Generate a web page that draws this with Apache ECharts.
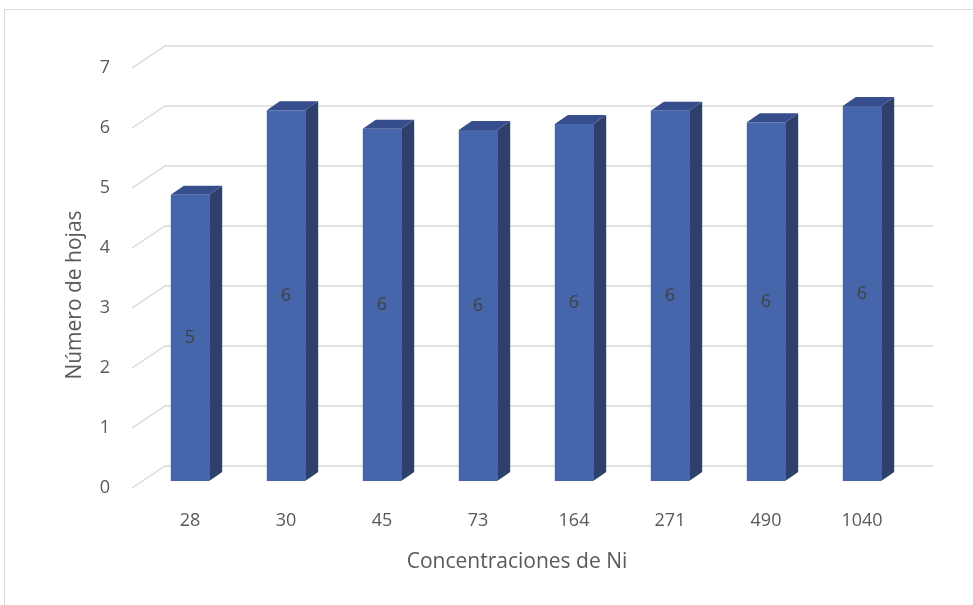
<!DOCTYPE html>
<html>
<head>
    <meta charset="utf-8">
    <title>Número de hojas</title>
    <script src="https://cdn.jsdelivr.net/npm/echarts@6.0.0/dist/echarts.min.js"></script>
    <style>
        html, body { margin: 0; padding: 0; background: #fff; }
        #chart { width: 973px; height: 605px; }
    </style>
</head>
<body>
<div id="chart"></div>
<script>
    // datos
    const categories = ['28', '30', '45', '73', '164', '271', '490', '1040'];
    const hojas = [4.77, 6.18, 5.87, 5.85, 5.95, 6.17, 5.98, 6.25];
    const yTicks = [0, 1, 2, 3, 4, 5, 6, 7];

    const textColor = '#595959';
    const font = 'Open Sans';
    // desplazamientos de la perspectiva (px)
    const depth = { dx: 13, dy: 9 };        // fondo de la barra
    const wallBack = { dx: 23, dy: -15 };   // pared del fondo
    const wallFront = { dx: -10, dy: 7 };   // plano frontal

    function renderWall(params, api) {
        const cs = params.coordSys;
        const y = api.coord([0, api.value(1)])[1];
        const line = { stroke: '#D9D9D9', lineWidth: 1.5 };
        return {
            type: 'group',
            children: [{
                type: 'line',
                shape: { x1: cs.x + wallBack.dx, y1: y + wallBack.dy, x2: cs.x + cs.width + wallBack.dx, y2: y + wallBack.dy },
                style: line
            }, {
                type: 'line',
                shape: { x1: cs.x + wallFront.dx, y1: y + wallFront.dy, x2: cs.x + wallBack.dx, y2: y + wallBack.dy },
                style: line
            }]
        };
    }

    function renderBar(params, api) {
        const top = api.coord([api.value(0), api.value(1)]);
        const base = api.coord([api.value(0), 0]);
        const w = api.size([1, 0])[0] * 0.4;
        const x0 = top[0] - w / 2, x1 = top[0] + w / 2;
        return {
            type: 'group',
            children: [{
                type: 'polygon',
                shape: { points: [[x1, top[1]], [x1 + depth.dx, top[1] - depth.dy], [x1 + depth.dx, base[1] - depth.dy], [x1, base[1]]] },
                style: { fill: '#2E3F6C' }
            }, {
                type: 'polygon',
                shape: { points: [[x0, top[1]], [x0 + depth.dx, top[1] - depth.dy], [x1 + depth.dx, top[1] - depth.dy], [x1, top[1]]] },
                style: { fill: '#364E8C' }
            }, {
                type: 'rect',
                shape: { x: x0, y: top[1], width: w, height: base[1] - top[1] },
                style: { fill: '#4666AC' }
            }, {
                type: 'text',
                style: {
                    text: String(Math.round(api.value(1))),
                    x: top[0], y: (top[1] + base[1]) / 2,
                    align: 'center', verticalAlign: 'middle',
                    fill: '#404040', fontSize: 18, fontFamily: font
                }
            }]
        };
    }

    const chart = echarts.init(document.getElementById('chart'));
    chart.setOption({
        animation: false,
        graphic: [{
            type: 'rect',
            shape: { x: 4.5, y: 9.5, width: 1200, height: 1000 },
            style: { fill: 'none', stroke: '#D9D9D9', lineWidth: 1 },
            silent: true
        }],
        grid: [
            // plano de las barras
            { left: 142, right: 63, top: 61, bottom: 124 },
            // plano frontal (etiquetas del eje y)
            { left: 132, right: 73, top: 68, bottom: 117 }
        ],
        xAxis: [{
            type: 'category',
            data: categories,
            gridIndex: 0,
            axisLine: { show: false },
            axisTick: { show: false },
            axisLabel: { margin: 31, color: textColor, fontSize: 18, fontFamily: font },
            name: 'Concentraciones de Ni',
            nameLocation: 'middle',
            nameGap: 71,
            nameTextStyle: { color: textColor, fontSize: 21, fontFamily: font, padding: [0, 18, 0, 0] }
        }, {
            type: 'value',
            gridIndex: 1,
            show: false
        }],
        yAxis: [{
            type: 'value',
            gridIndex: 0,
            min: 0, max: 7, interval: 1,
            show: false
        }, {
            type: 'value',
            gridIndex: 1,
            min: 0, max: 7, interval: 1,
            axisLine: { show: false },
            axisTick: { show: false },
            splitLine: { show: false },
            axisLabel: { margin: 22, color: textColor, fontSize: 18, fontFamily: font },
            name: 'Número de hojas',
            nameLocation: 'middle',
            nameGap: 46,
            nameTextStyle: { color: textColor, fontSize: 21, fontFamily: font, padding: [0, 34, 0, 0] }
        }],
        series: [{
            type: 'custom',
            xAxisIndex: 0, yAxisIndex: 0,
            renderItem: renderWall,
            data: yTicks.map(v => [0, v]),
            z: 1,
            silent: true
        }, {
            type: 'custom',
            xAxisIndex: 0, yAxisIndex: 0,
            renderItem: renderBar,
            data: hojas.map((v, i) => [i, v]),
            z: 2
        }]
    });
</script>
</body>
</html>
